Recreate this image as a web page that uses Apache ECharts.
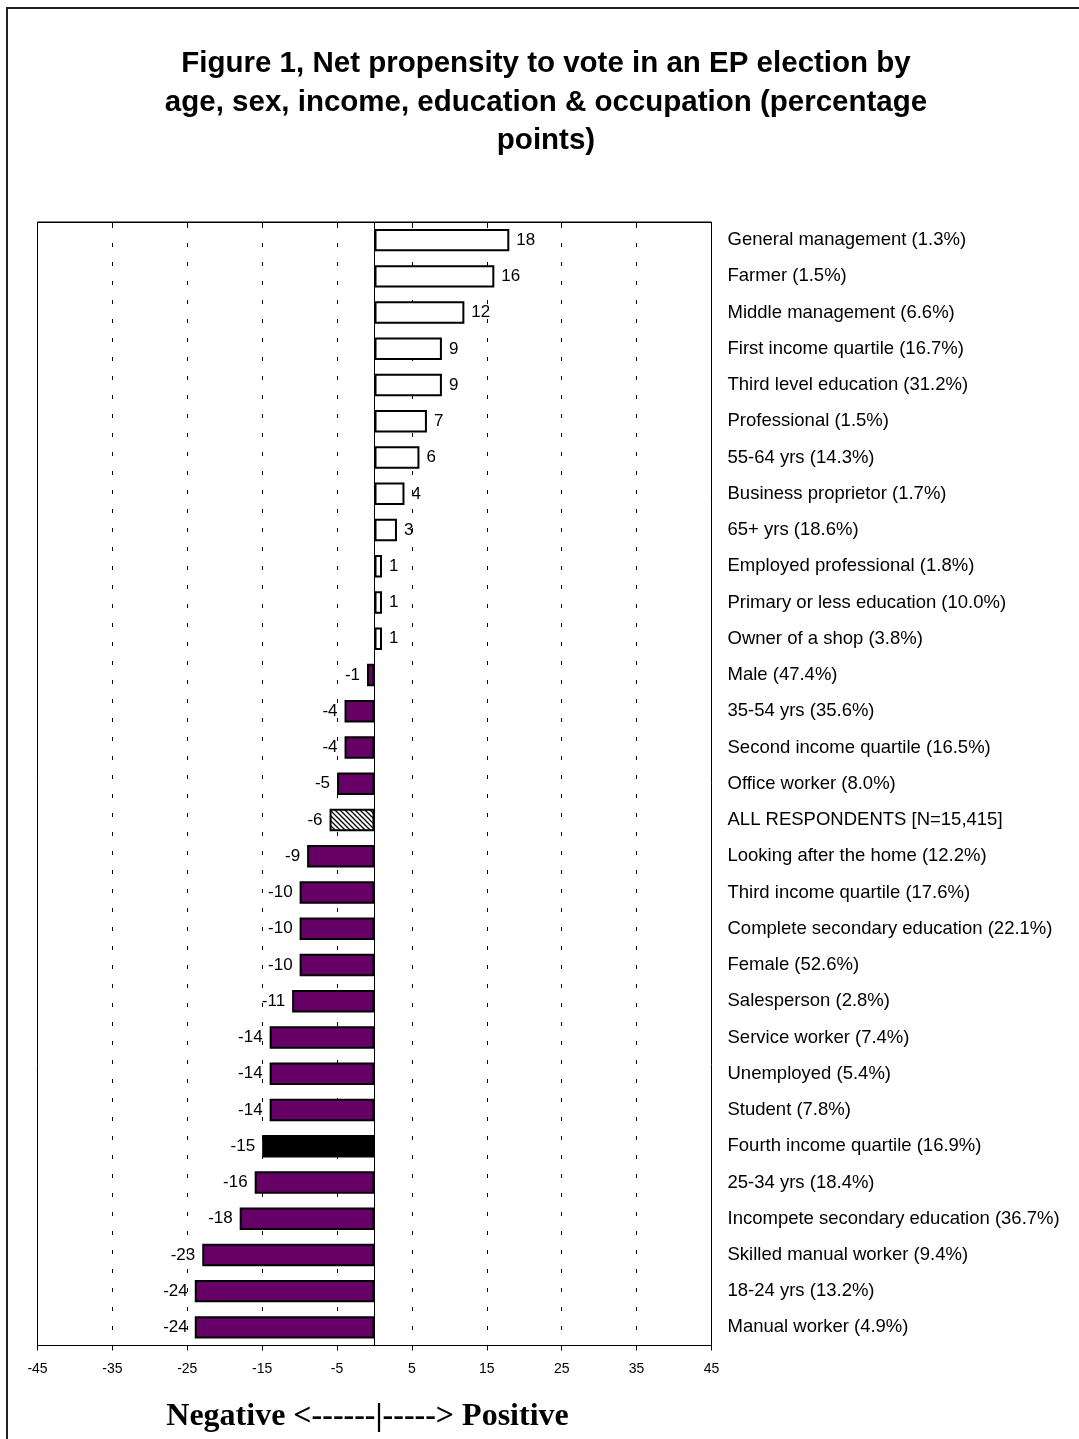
<!DOCTYPE html>
<html>
<head>
<meta charset="utf-8">
<script src="https://cdn.jsdelivr.net/npm/echarts@6/dist/echarts.min.js"></script>
<style>
  html, body { margin: 0; padding: 0; background: #ffffff; }
  #chart { width: 1079px; height: 1439px; }
</style>
</head>
<body>
<div id="chart"></div>
<script>
// Groups, top to bottom, with their share of respondents
const categories = [
  'General management (1.3%)',
  'Farmer (1.5%)',
  'Middle management (6.6%)',
  'First income quartile (16.7%)',
  'Third level education (31.2%)',
  'Professional (1.5%)',
  '55-64 yrs (14.3%)',
  'Business proprietor (1.7%)',
  '65+ yrs (18.6%)',
  'Employed professional (1.8%)',
  'Primary or less education (10.0%)',
  'Owner of a shop (3.8%)',
  'Male (47.4%)',
  '35-54 yrs (35.6%)',
  'Second income quartile (16.5%)',
  'Office worker (8.0%)',
  'ALL RESPONDENTS [N=15,415]',
  'Looking after the home (12.2%)',
  'Third income quartile (17.6%)',
  'Complete secondary education (22.1%)',
  'Female (52.6%)',
  'Salesperson (2.8%)',
  'Service worker (7.4%)',
  'Unemployed (5.4%)',
  'Student (7.8%)',
  'Fourth income quartile (16.9%)',
  '25-34 yrs (18.4%)',
  'Incompete secondary education (36.7%)',
  'Skilled manual worker (9.4%)',
  '18-24 yrs (13.2%)',
  'Manual worker (4.9%)'
];

// Net propensity to vote, percentage points
const netPropensity = [
  18, 16, 12, 9, 9, 7, 6, 4, 3, 1, 1, 1,
  -1, -4, -4, -5, -6, -9, -10, -10, -10, -11,
  -14, -14, -14, -15, -16, -18, -23, -24, -24
];

// Value axis ticks
const xTickMin = -45;
const xTickMax = 45;
const xTickStep = 10;

const totalRow = 'ALL RESPONDENTS [N=15,415]';
const blackRow = 'Fourth income quartile (16.9%)';

// Diagonal hatch used for the all-respondents bar
function hatchPattern() {
  const c = document.createElement('canvas');
  c.width = 5; c.height = 5;
  const g = c.getContext('2d');
  g.fillStyle = '#ffffff';
  g.fillRect(0, 0, 5, 5);
  g.strokeStyle = '#000000';
  g.lineWidth = 1.3;
  g.beginPath();
  g.moveTo(-1, -1); g.lineTo(6, 6);
  g.moveTo(-1, 4); g.lineTo(1, 6);
  g.moveTo(4, -1); g.lineTo(6, 1);
  g.stroke();
  return c;
}
const hatch = { image: hatchPattern(), repeat: 'repeat' };

function fillFor(name, v) {
  if (name === totalRow) return hatch;
  if (name === blackRow) return '#000000';
  return v >= 0 ? '#ffffff' : '#660066';
}

const barData = netPropensity.map((v, i) => ({
  value: v,
  itemStyle: { color: fillFor(categories[i], v) },
  label: { position: v >= 0 ? 'right' : 'left' }
}));

const chart = echarts.init(document.getElementById('chart'), null, { renderer: 'canvas' });

chart.setOption({
  backgroundColor: '#ffffff',
  animation: false,
  title: {
    text: 'Figure 1, Net propensity to vote in an EP election by\nage, sex, income, education & occupation (percentage\npoints)',
    left: 541,
    textAlign: 'center',
    top: 40,
    textStyle: {
      fontFamily: 'Liberation Sans, Arial, sans-serif',
      fontWeight: 'bold',
      fontSize: 29.5,
      lineHeight: 38.5,
      color: '#000000'
    }
  },
  graphic: [{
    type: 'rect',
    silent: true,
    shape: { x: 7, y: 8, width: 1200, height: 1600 },
    style: { fill: 'none', stroke: '#222222', lineWidth: 2 }
  }],
  grid: {
    left: 37.5,
    right: 367.5,
    top: 222,
    bottom: 93.5,
    show: true,
    borderColor: '#000000',
    borderWidth: 1,
    backgroundColor: '#ffffff'
  },
  xAxis: [{
    type: 'value',
    position: 'bottom',
    min: xTickMin,
    max: xTickMax,
    interval: xTickStep,
    axisLine: { show: true, onZero: false, lineStyle: { color: '#000000', width: 1 } },
    axisTick: { show: true, inside: false, length: 5, lineStyle: { color: '#000000' } },
    axisLabel: {
      show: true,
      margin: 17,
      fontFamily: 'Liberation Sans, Arial, sans-serif',
      fontSize: 14,
      color: '#000000',
      showMinLabel: true,
      showMaxLabel: true
    },
    splitLine: { show: true, lineStyle: { color: '#000000', width: 1, type: [4, 15], dashOffset: -2 } },
    name: 'Negative <------|-----> Positive',
    nameLocation: 'middle',
    nameGap: 55,
    nameTextStyle: {
      fontFamily: 'Liberation Serif, Times New Roman, serif',
      fontWeight: 'bold',
      fontSize: 32,
      color: '#000000',
      padding: [0, 14, 0, 0]
    }
  }, {
    type: 'value',
    position: 'top',
    min: xTickMin,
    max: xTickMax,
    interval: xTickStep,
    axisLine: { show: true, onZero: false, lineStyle: { color: '#000000', width: 1 } },
    axisTick: { show: true, inside: true, length: 5, lineStyle: { color: '#000000' } },
    axisLabel: { show: false },
    splitLine: { show: false }
  }],
  yAxis: {
    type: 'category',
    data: categories,
    inverse: true,
    position: 'right',
    axisLine: { show: false },
    axisTick: { show: false },
    axisLabel: {
      margin: 16,
      fontFamily: 'Liberation Sans, Arial, sans-serif',
      fontSize: 18.5,
      color: '#000000'
    },
    splitLine: { show: false }
  },
  series: [{
    type: 'bar',
    xAxisIndex: 0,
    data: barData,
    barCategoryGap: '38%',
    itemStyle: { borderColor: '#000000', borderWidth: 2 },
    label: {
      show: true,
      distance: 7,
      fontFamily: 'Liberation Sans, Arial, sans-serif',
      fontSize: 17,
      color: '#000000'
    },
    markLine: {
      silent: true,
      symbol: 'none',
      label: { show: false },
      lineStyle: { color: '#000000', width: 1, type: 'solid' },
      data: [{ xAxis: 0 }]
    },
    z: 3
  }]
});
</script>
</body>
</html>
